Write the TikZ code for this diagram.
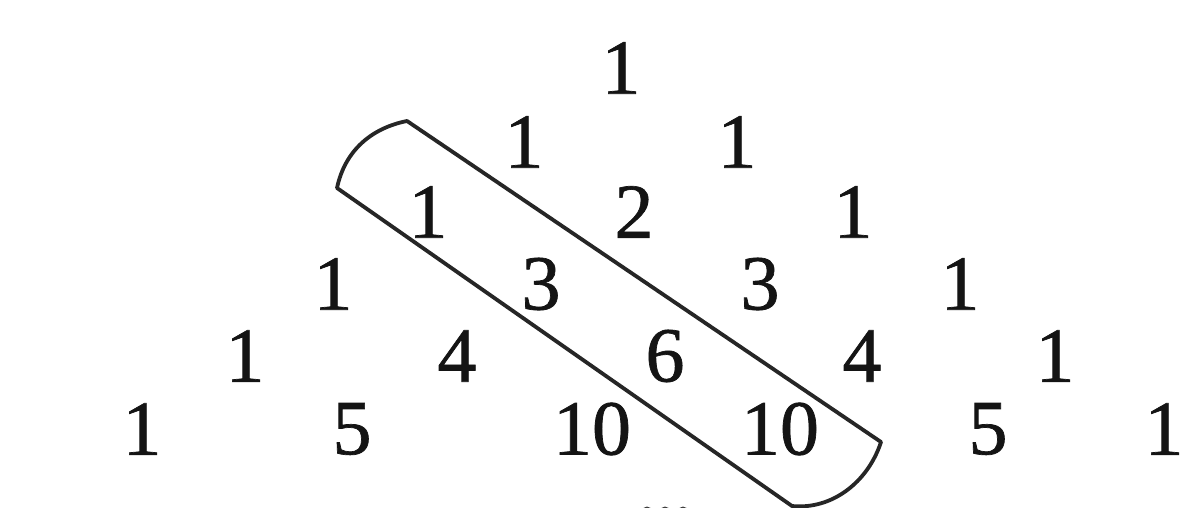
\documentclass[tikz,border=0pt]{standalone}
\usepackage{fontspec}
\setmainfont{Liberation Serif}
\newfontface\numfont{Liberation Serif}[FakeBold=0.9]
\begin{document}
\begin{tikzpicture}[x=1pt,y=-1pt,
  num/.style={inner sep=0pt,font=\numfont\fontsize{78}{78}\selectfont,text=black!92},
  band/.style={draw=black!85,line width=3.8pt,line join=round}]
\useasboundingbox (0,0) rectangle (1185,508);
% row 0
\node[num] (r0a) at (621,68) {1};
% row 1
\node[num] (r1a) at (524,142) {1};
\node[num] (r1b) at (737,142) {1};
% row 2
\node[num] (r2a) at (428,212) {1};
\node[num] (r2b) at (634,212) {2};
\node[num] (r2c) at (853,212) {1};
% row 3
\node[num] (r3a) at (333,284) {1};
\node[num] (r3b) at (541,284) {3};
\node[num] (r3c) at (760,284) {3};
\node[num] (r3d) at (960,284) {1};
% row 4
\node[num] (r4a) at (245,356) {1};
\node[num] (r4b) at (457,356) {4};
\node[num] (r4c) at (665,356) {6};
\node[num] (r4d) at (862,356) {4};
\node[num] (r4e) at (1055,356) {1};
% row 5
\node[num] (r5a) at (142,429) {1};
\node[num] (r5b) at (352,429) {5};
\node[num] (r5c) at (592,429) {10};
\node[num] (r5d) at (780,429) {10};
\node[num] (r5e) at (988,429) {5};
\node[num] (r5f) at (1164,429) {1};
% band around the diagonal 1,3,6,10
\coordinate (tl) at (407,121);
\coordinate (tr) at (881,442);
\coordinate (br) at (792,506);
\coordinate (bl) at (337,188);
\draw[band] (tl) -- (tr) .. controls (868,482) and (832,510) .. (br)
  -- (bl) .. controls (345,150) and (372,128) .. (tl) -- cycle;
% cut-off dots at the bottom
\foreach \xx in {647,665,683} \fill[black!75] (\xx,512) circle (5.5);
\end{tikzpicture}
\end{document}
